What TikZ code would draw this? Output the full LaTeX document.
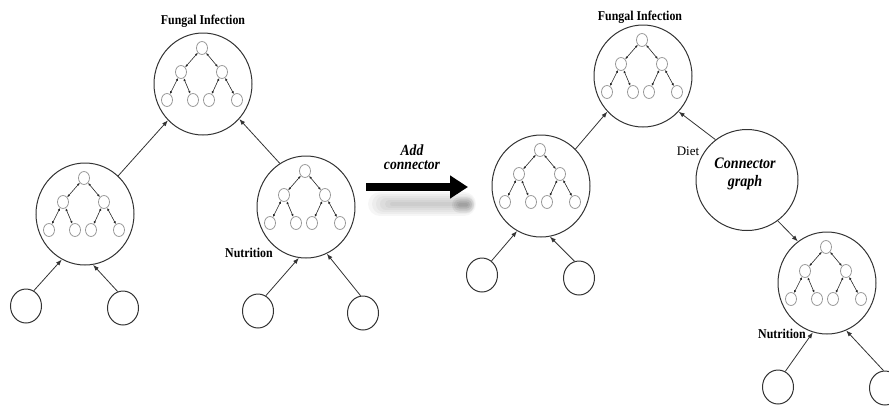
\documentclass[tikz,border=0pt]{standalone}
\usepackage{fontspec}
\setmainfont{Liberation Serif}
\usetikzlibrary{arrows.meta,shapes.geometric}

% condensed lettering used for all labels
\newcommand{\cnd}[1]{\scalebox{0.88}[1]{#1}}

\tikzset{
  bigc/.style={ellipse, draw=black!80, line width=1pt, minimum width=98pt, minimum height=102pt, inner sep=0pt},
  conc/.style={ellipse, draw=black!80, line width=1pt, minimum width=102pt, minimum height=101pt, inner sep=0pt},
  smallc/.style={ellipse, draw=black!80, line width=1pt, minimum width=31pt, minimum height=34pt, inner sep=0pt},
  tinyc/.style={ellipse, draw=black!40, line width=0.8pt, minimum width=11pt, minimum height=13pt, inner sep=0pt},
  link/.style={draw=black!80, line width=0.8pt, -{Latex[length=6pt,width=4.5pt]}},
  tlink/.style={draw=black!85, line width=0.6pt, {Latex[length=2.8pt,width=2.4pt]}-{Latex[length=2.8pt,width=2.4pt]}},
  lbl/.style={font=\bfseries\fontsize{13.5}{15}\selectfont, inner sep=0pt},
  plainlbl/.style={font=\fontsize{13}{15}\selectfont, inner sep=0pt},
  bilbl/.style={font=\bfseries\itshape\fontsize{15.5}{17}\selectfont, inner sep=0pt, align=center},
}

% seven-node binary tree drawn inside a big circle
\newcommand{\innertree}[1]{%
  \begin{scope}[shift={(#1.center)}]
    \node[tinyc] (#1-r)  at (-1,-36) {};
    \node[tinyc] (#1-a)  at (-22,-12) {};
    \node[tinyc] (#1-b)  at (19,-12) {};
    \node[tinyc] (#1-aa) at (-36,16) {};
    \node[tinyc] (#1-ab) at (-10,16) {};
    \node[tinyc] (#1-ba) at (6,16) {};
    \node[tinyc] (#1-bb) at (34,16) {};
    \draw[tlink] (#1-r) -- (#1-a);
    \draw[tlink] (#1-r) -- (#1-b);
    \draw[tlink] (#1-a) -- (#1-aa);
    \draw[tlink] (#1-a) -- (#1-ab);
    \draw[tlink] (#1-b) -- (#1-ba);
    \draw[tlink] (#1-b) -- (#1-bb);
  \end{scope}}

\begin{document}
\begin{tikzpicture}[x=1pt,y=-1pt]
\useasboundingbox (0,0) rectangle (889,405);

% ---------- before: two-level network ----------
\node[bigc] (T1) at (203,84) {};
\node[bigc] (M1) at (85,214) {};
\node[bigc] (N1) at (306,207) {};
\node[smallc] (B1) at (26,306) {};
\node[smallc] (B2) at (123,308) {};
\node[smallc] (B3) at (258,311) {};
\node[smallc] (B4) at (363,313) {};
\innertree{T1}
\innertree{M1}
\innertree{N1}

\draw[link] (M1.49) -- (T1.226);
\draw[link] (N1.121) -- (T1.316);
\draw[link] (B1.63) -- (M1.243);
\draw[link] (B2.108) -- (M1.279);
\draw[link] (B3.63) -- (N1.262);
\draw[link] (B4.98) -- (N1.294);

\node[lbl] (lt1) at (203,21) {\cnd{Fungal Infection}};
\node[lbl] (ln1) at (249,253) {\cnd{Nutrition}};

% ---------- transition arrow with its soft shadow ----------
\foreach \w/\a/\b in {24/380/464, 20/382/465, 16/384/466, 12/386/467, 8/389/468, 4/392/468}
  \draw[black, opacity=0.035, line width=\w pt, line cap=round] (\a,204) -- (\b,204);
\foreach \w in {16,12,8,4}
  \draw[black, opacity=0.06, line width=\w pt, line cap=round] (460,205) -- (466,205);
\coordinate (arS) at (366,187);
\coordinate (arE) at (468,187);
\draw[black, line width=8pt, -{Triangle[length=18pt,width=22pt]}] (arS) -- (arE);
\node[bilbl] (add) at (412,150) {\cnd{Add}};
\node[bilbl] (addc) at (412,165) {\cnd{connector}};

% ---------- after: network with a connector graph ----------
\node[bigc] (T2) at (643,76) {};
\node[bigc] (M2) at (541,186) {};
\node[conc] (C) at (747,180) {};
\node[bigc] (N2) at (827,283) {};
\node[smallc] (B5) at (482,275) {};
\node[smallc] (B6) at (579,278) {};
\node[smallc] (B7) at (778,387) {};
\node[smallc] (B8) at (885,388) {};
\innertree{T2}
\innertree{M2}
\innertree{N2}

\draw[link] (M2.47) -- (T2.225);
\draw[link] (C.128) -- (T2.315);
\draw[link] (C.307) -- (N2.125);
\draw[link] (B5.56) -- (M2.242);
\draw[link] (B6.105) -- (M2.280);
\draw[link] (B7.65) -- (N2.254);
\draw[link] (B8.95) -- (N2.292);

\node[lbl] (lt2) at (640,17) {\cnd{Fungal Infection}};
\node[lbl] (ln2) at (782,334) {\cnd{Nutrition}};
\node[plainlbl] (ldiet) at (688,151) {Diet};
\node[font=\bfseries\itshape\fontsize{16}{18}\selectfont, inner sep=0pt, align=center] (lc) at (745,174) {\cnd{Connector}\\\cnd{graph}};
\end{tikzpicture}
\end{document}
